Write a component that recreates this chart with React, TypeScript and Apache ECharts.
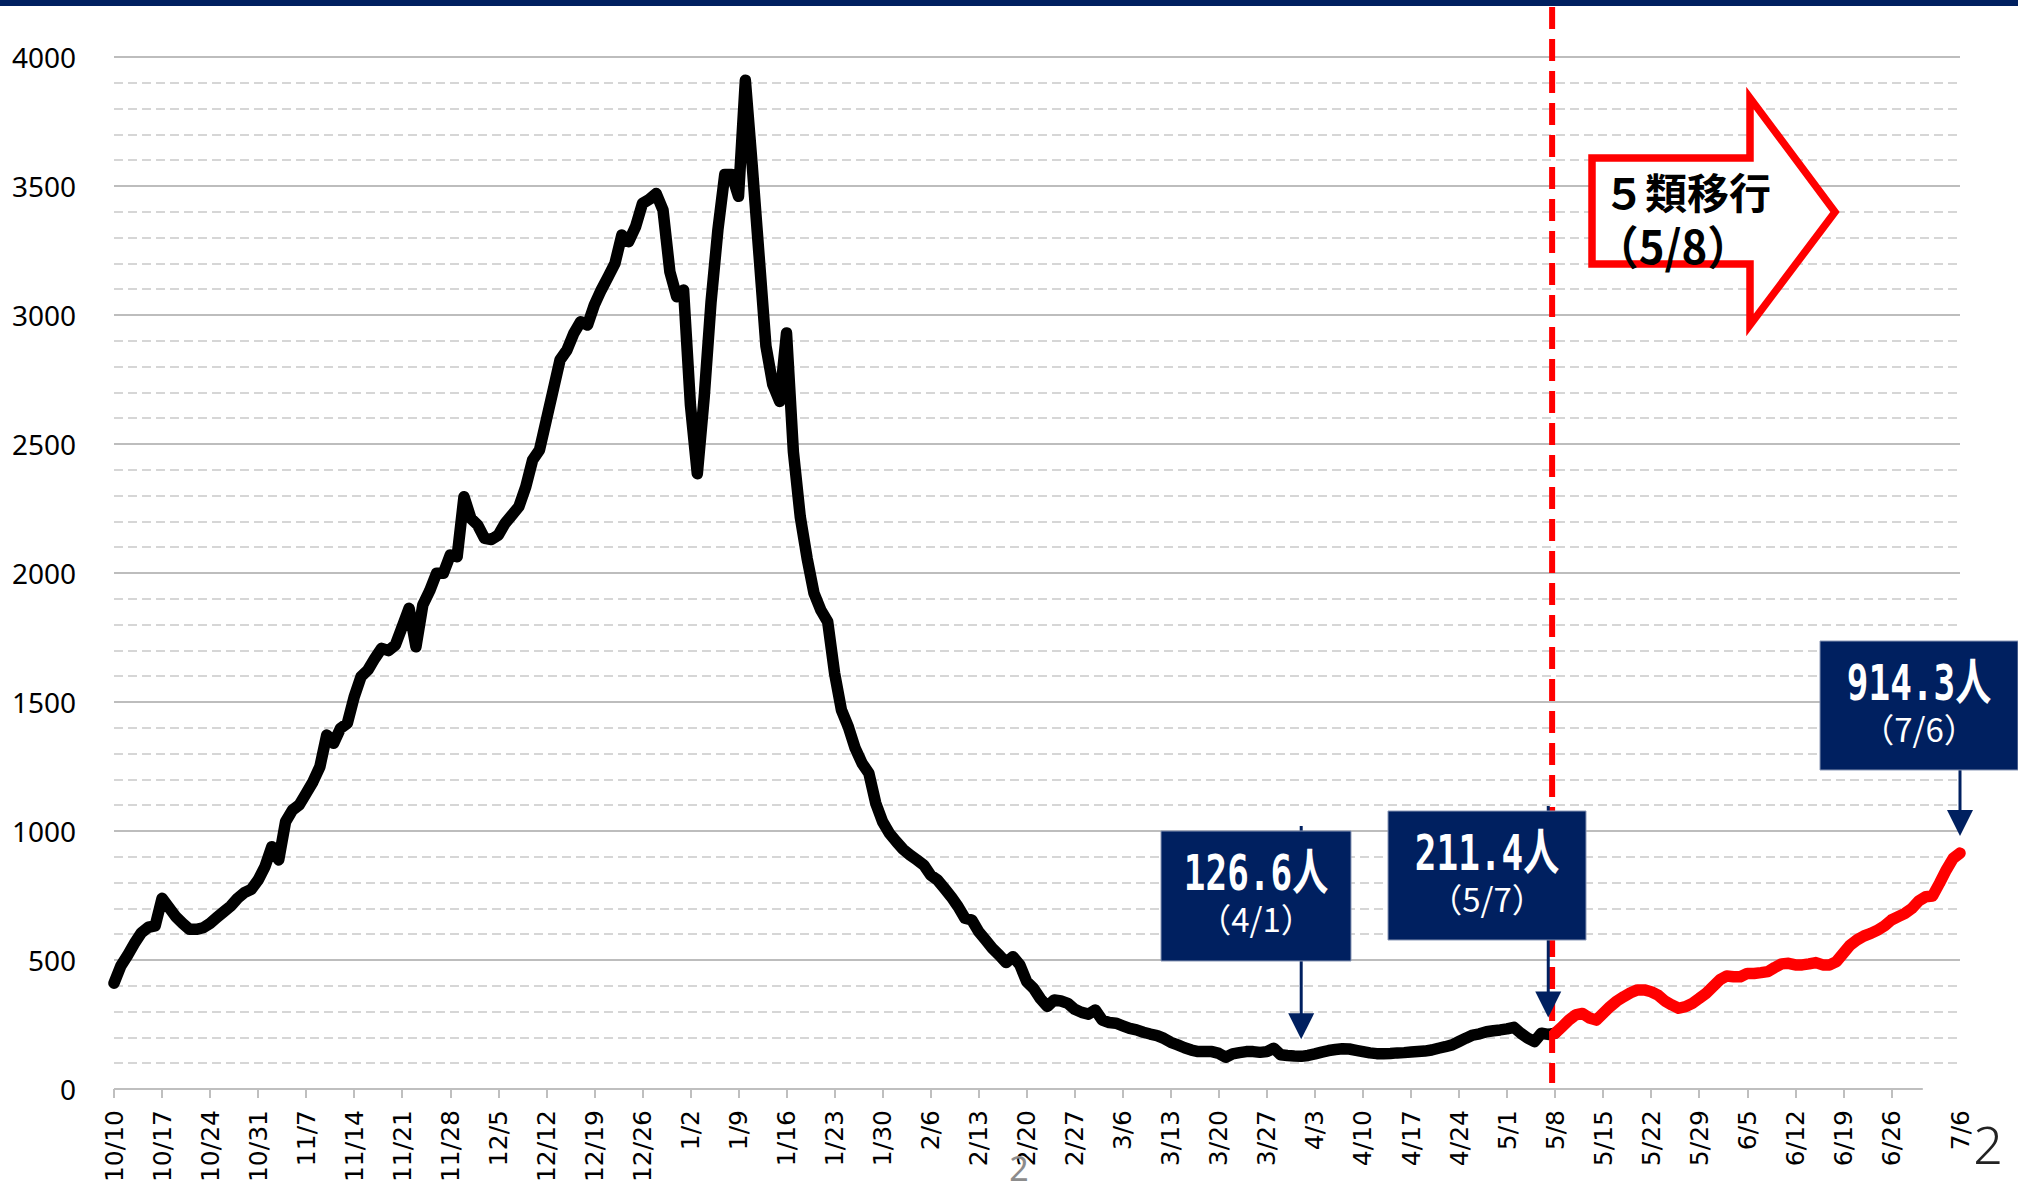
import React, { useEffect, useRef } from "react";
import * as echarts from "echarts";

// ---- categories: daily, 2022-10-10 .. 2023-07-06 ----
const MONTH_SPANS: [number, number, number][] = [
  [10, 10, 31], [11, 1, 30], [12, 1, 31], [1, 1, 31], [2, 1, 28],
  [3, 1, 31], [4, 1, 30], [5, 1, 31], [6, 1, 30], [7, 1, 6],
];
const categories: string[] = [];
for (const [m, s, e] of MONTH_SPANS) for (let d = s; d <= e; d++) categories.push(`${m}/${d}`);

// ---- values (7-day average, persons) ----
// 10/10 .. 5/7 (black)
const beforeShift: number[] = [
  410, 477, 519, 565, 606, 627, 632, 739, 704, 668,
  642, 619, 619, 625, 642, 665, 687, 709, 739, 761,
  774, 810, 862, 939, 888, 1036, 1081, 1101, 1146, 1191,
  1249, 1372, 1340, 1398, 1417, 1520, 1598, 1624, 1669, 1708,
  1699, 1721, 1792, 1863, 1714, 1876, 1931, 1999, 1999, 2070,
  2063, 2296, 2212, 2186, 2134, 2130, 2147, 2193, 2225, 2257,
  2334, 2438, 2477, 2593, 2709, 2826, 2864, 2929, 2974, 2961,
  3039, 3097, 3148, 3200, 3310, 3284, 3342, 3432, 3448, 3471,
  3407, 3168, 3071, 3097, 2650, 2385, 2680, 3050, 3330, 3545,
  3545, 3460, 3910, 3580, 3230, 2880, 2730, 2665, 2930, 2470,
  2218, 2057, 1922, 1856, 1811, 1612, 1469, 1404, 1321, 1263,
  1224, 1108, 1036, 991, 959, 929, 907, 888, 868, 829,
  810, 778, 745, 707, 662, 655, 610, 578, 545, 519,
  490, 513, 481, 416, 390, 350, 320, 345, 341, 332,
  309, 297, 290, 306, 267, 258, 255, 245, 235, 229,
  220, 213, 207, 196, 181, 171, 160, 151, 145, 145,
  145, 138, 123, 136, 141, 145, 145, 142, 145, 158,
  133, 130, 128, 126.6, 130, 136, 143, 149, 153, 156,
  155, 150, 145, 140, 137, 137, 138, 140, 141, 143,
  145, 147, 151, 158, 164, 171, 184, 197, 209, 214,
  222, 226, 229, 233, 239, 216, 197, 184, 216, 211.4,
];
// 5/8 .. 7/6 (red, after the shift to Class 5)
const afterShift: number[] = [
  216, 241, 267, 287, 293, 275, 267, 293, 319, 341,
  358, 373, 384, 384, 377, 364, 341, 326, 313, 319,
  332, 351, 371, 397, 423, 438, 435, 435, 448, 448,
  451, 455, 471, 485, 487, 481, 481, 485, 490, 481,
  481, 494, 526, 558, 578, 593, 603, 616, 632, 655,
  668, 681, 700, 729, 745, 748, 797, 849, 894, 914.3,
];

// annotated points
const annotations = [
  { index: 173, value: 126.6, main: "126.6人", sub: "（4/1）" },
  { index: 209, value: 211.4, main: "211.4人", sub: "（5/7）" },
  { index: 269, value: 914.3, main: "914.3人", sub: "（7/6）" },
];
const SHIFT_INDEX = 210; // 5/8

// layout of the annotation boxes (pixels)
const BOX_LAYOUT = [
  { x: 1161, y: 831, w: 190, h: 130, lineTop: 826 },
  { x: 1388, y: 811, w: 198, h: 129, lineTop: 806 },
  { x: 1820, y: 641, w: 198, h: 129, lineTop: 770 },
];

const NAVY = "#002060";
const RED = "#ff0000";
const CJK = '"Noto Sans CJK JP"';
const MONO_CJK = '"DejaVu Sans Mono", "Noto Sans CJK JP"';

export default function App() {
  const ref = useRef<HTMLDivElement>(null);

  useEffect(() => {
    const el = ref.current!;
    const chart = echarts.init(el, null, { renderer: "svg" });
    const nBefore = beforeShift.length;
    const blackData = categories.map((_, i) =>
      i < nBefore ? beforeShift[i] : i === nBefore ? afterShift[0] : null
    );
    const redData = categories.map((_, i) => (i >= nBefore ? afterShift[i - nBefore] : null));
    const lastIdx = categories.length - 1;
    const tickShown = (i: number) => i % 7 === 0 && i <= 259;
    const labelShown = (i: number) => tickShown(i) || i === lastIdx;

    chart.setOption({
      animation: false,
      backgroundColor: "#ffffff",
      grid: { left: 114, right: 58, top: 57, bottom: 101, containLabel: false, outerBoundsMode: "none" },
      xAxis: {
        type: "category",
        data: categories,
        boundaryGap: false,
        axisLine: { show: false },
        axisTick: {
          show: true,
          length: 9,
          interval: (i: number) => tickShown(i),
          lineStyle: { color: "#bfbfbf", width: 2 },
        },
        axisLabel: {
          interval: (i: number) => labelShown(i),
          rotate: 90,
          margin: 21,
          fontFamily: "DejaVu Sans",
          fontSize: 25,
          color: "#000",
        },
        splitLine: { show: false },
      },
      yAxis: {
        type: "value",
        min: 0,
        max: 4000,
        interval: 500,
        axisLine: { show: false },
        axisTick: { show: false },
        axisLabel: {
          margin: 38,
          fontFamily: "Noto Sans",
          fontSize: 28,
          color: "#000",
          formatter: (v: number) => String(v),
        },
        splitLine: { show: true, showMinLine: false, lineStyle: { color: "#bdbdbd", width: 2 } },
        minorTick: { show: false, splitNumber: 5 },
        minorSplitLine: { show: true, lineStyle: { color: "#d6d6d6", width: 2, type: [9, 5] } },
      },
      series: [
        {
          type: "line",
          data: blackData,
          symbol: "none",
          showSymbol: false,
          silent: true,
          z: 3,
          lineStyle: { color: "#000", width: 11.5, cap: "round", join: "round" },
        },
        {
          type: "line",
          data: redData,
          symbol: "none",
          showSymbol: false,
          silent: true,
          z: 4,
          lineStyle: { color: RED, width: 11.5, cap: "round", join: "round" },
        },
      ],
    });

    const px = (i: number, v: number) => chart.convertToPixel({ gridIndex: 0 }, [i, v]) as number[];
    const [x0, y0] = px(0, 0);
    const [xAxisEnd] = px(263, 0);
    const [xShift] = px(SHIFT_INDEX, 0);

    const txt = (
      x: number, y: number, text: string, size: number, weight: string,
      fill: string, scaleX: number, z: number, family = CJK
    ) => ({
      type: "text",
      x, y, scaleX, z,
      style: {
        text, fill,
        fontSize: size, fontWeight: weight, fontFamily: family, lineHeight: size,
        textAlign: "center", textVerticalAlign: "middle",
        align: "center", verticalAlign: "middle",
      },
    });

    const elements: any[] = [
      { type: "rect", shape: { x: 0, y: 0, width: 2018, height: 6 }, style: { fill: NAVY }, z: 50 },
      { type: "line", shape: { x1: x0, y1: y0, x2: xAxisEnd + 4, y2: y0 }, style: { stroke: "#bfbfbf", lineWidth: 2 }, z: 1 },
      {
        type: "line",
        shape: { x1: xShift - 3, y1: 7, x2: xShift - 3, y2: y0 - 6 },
        style: { stroke: RED, lineWidth: 6, lineDash: [22, 10] },
        z: 10,
      },
      {
        type: "polygon",
        shape: {
          points: [[1592, 158], [1750, 158], [1750, 98], [1835, 212], [1750, 325], [1750, 264], [1592, 264]],
        },
        style: { fill: "#fff", stroke: RED, lineWidth: 7.5, lineJoin: "miter" },
        z: 20,
      },
      txt(1687, 190, "５類移行", 42, "bold", "#000", 1, 21),
      txt(1673, 244, "（5/8）", 46, "bold", "#000", 0.95, 21),
      txt(1019, 1168, "2", 34, "normal", "#8c8c8c", 1, 21, '"Noto Sans"'),
      txt(1988, 1143, "2", 52, "300", "#222", 1, 21, '"Noto Sans"'),
    ];

    annotations.forEach((a, k) => {
      const b = BOX_LAYOUT[k];
      const [ax, ay] = px(a.index, a.value);
      const tipY = ay - 17;
      elements.push(
        {
          type: "line",
          shape: { x1: ax, y1: b.lineTop, x2: ax, y2: tipY - 22 },
          style: { stroke: NAVY, lineWidth: 3 },
          z: 30,
        },
        {
          type: "polygon",
          shape: { points: [[ax - 13, tipY - 26], [ax + 13, tipY - 26], [ax, tipY]] },
          style: { fill: NAVY },
          z: 30,
        },
        {
          type: "rect",
          shape: { x: b.x, y: b.y, width: b.w, height: b.h },
          style: { fill: NAVY, stroke: "#8a97b5", lineWidth: 1 },
          z: 31,
        },
        txt(b.x + b.w / 2, b.y + 42, a.main, 50, "bold", "#fff", 0.72, 32, MONO_CJK),
        txt(b.x + b.w / 2, b.y + 87, a.sub, 33, "normal", "#fff", 1.0, 32)
      );
    });

    chart.setOption({ graphic: elements });

    return () => chart.dispose();
  }, []);

  return (
    <div
      ref={ref}
      style={{ position: "fixed", left: 0, top: 0, width: 2018, height: 1190, background: "#fff" }}
    />
  );
}
